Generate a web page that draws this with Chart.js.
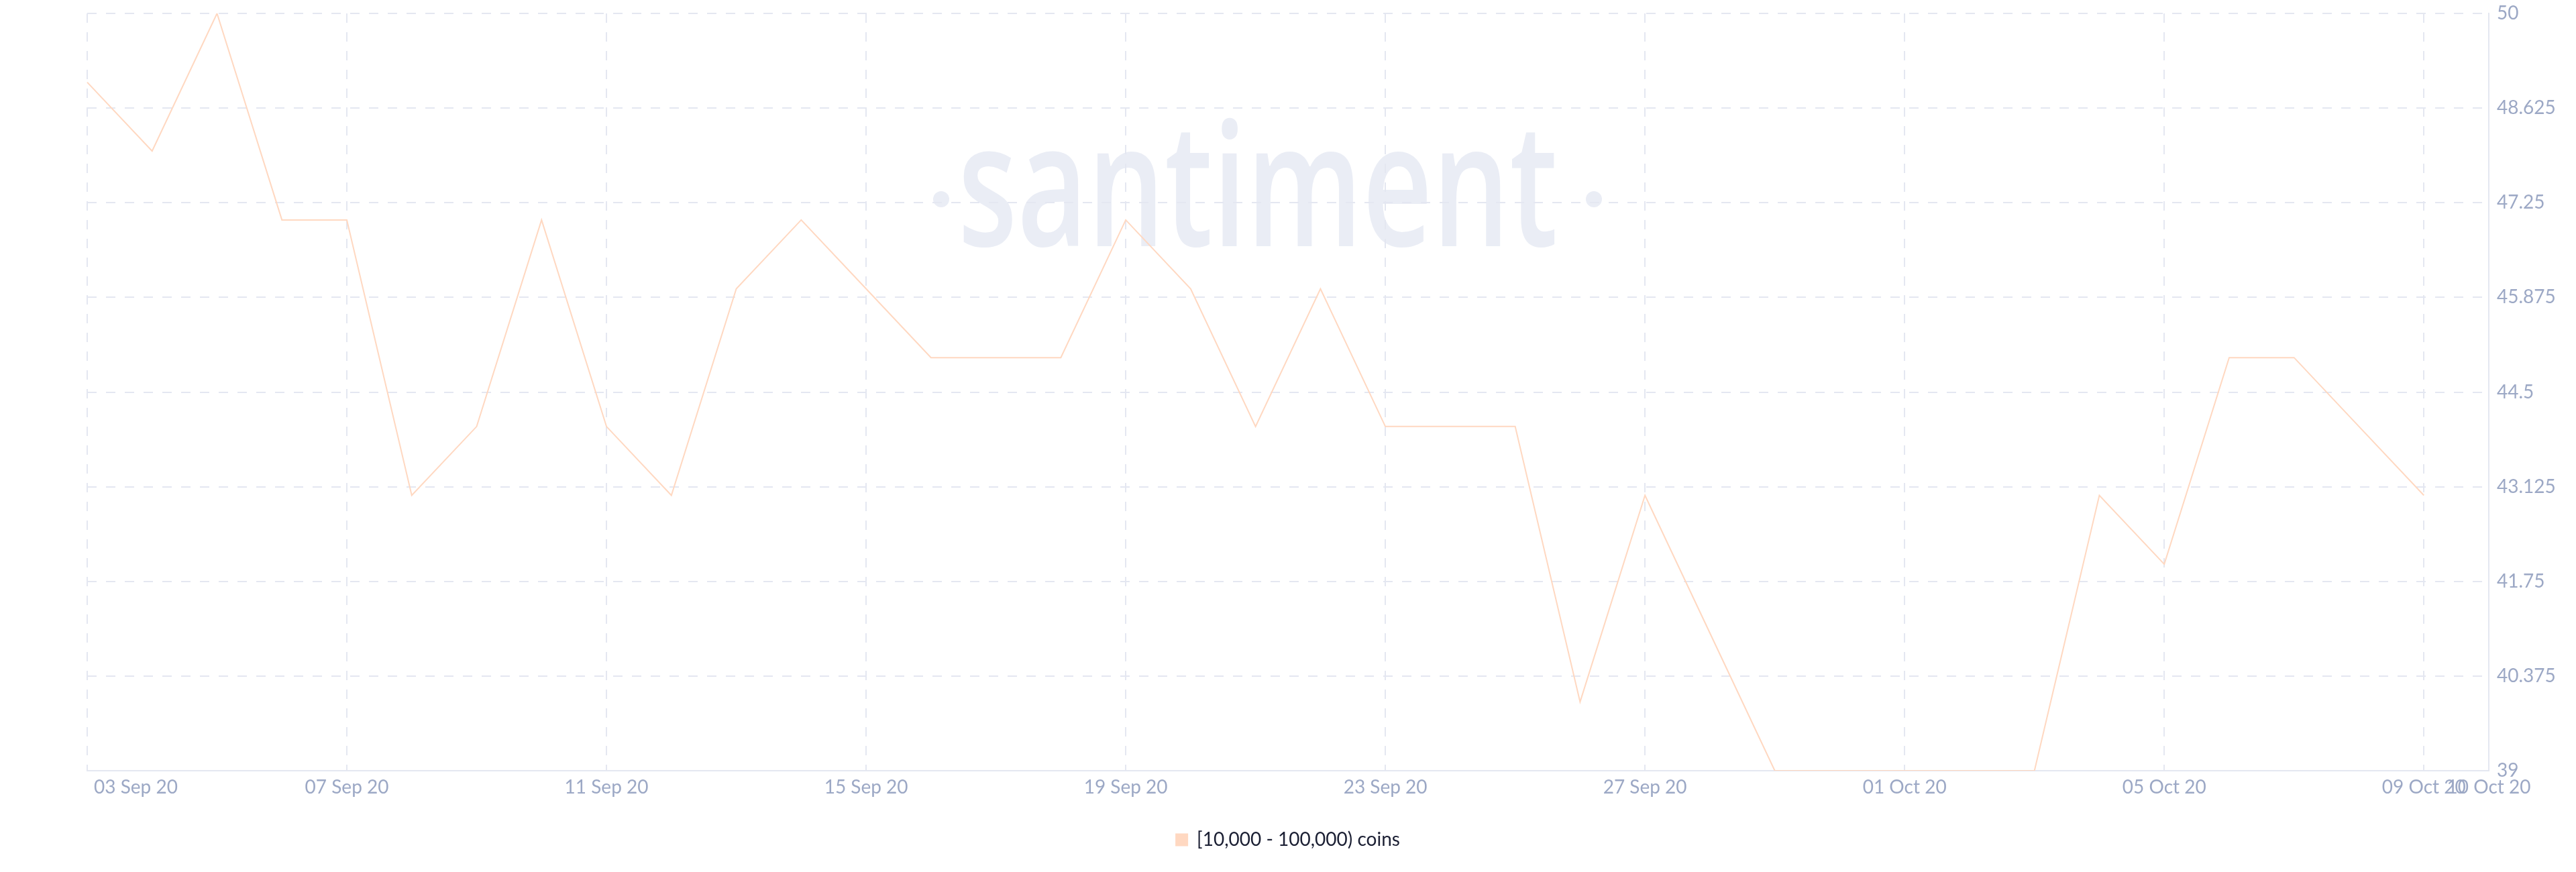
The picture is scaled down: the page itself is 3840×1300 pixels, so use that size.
<!DOCTYPE html>
<html>
<head>
<meta charset="utf-8">
<script src="https://cdn.jsdelivr.net/npm/chart.js@4.4.0/dist/chart.umd.min.js"></script>
<style>
  html, body { margin: 0; padding: 0; background: #fff; }
  #wrap { width: 3840px; height: 1300px; }
</style>
</head>
<body>
<div id="wrap"><canvas id="chart"></canvas></div>
<script>
// DATA
const days = [
  '03 Sep 20', '04 Sep 20', '05 Sep 20', '06 Sep 20', '07 Sep 20', '08 Sep 20', '09 Sep 20',
  '10 Sep 20', '11 Sep 20', '12 Sep 20', '13 Sep 20', '14 Sep 20', '15 Sep 20', '16 Sep 20',
  '17 Sep 20', '18 Sep 20', '19 Sep 20', '20 Sep 20', '21 Sep 20', '22 Sep 20', '23 Sep 20',
  '24 Sep 20', '25 Sep 20', '26 Sep 20', '27 Sep 20', '28 Sep 20', '29 Sep 20', '30 Sep 20',
  '01 Oct 20', '02 Oct 20', '03 Oct 20', '04 Oct 20', '05 Oct 20', '06 Oct 20', '07 Oct 20',
  '08 Oct 20', '09 Oct 20', '10 Oct 20'
];
const holders = [
  49, 48, 50, 47, 47, 43, 44, 47, 44, 43, 46, 47, 46, 45, 45, 45, 47, 46, 44,
  46, 44, 44, 44, 40, 43, 41, 39, 39, 39, 39, 39, 43, 42, 45, 45, 44, 43
];
const yTicks = [39, 40.375, 41.75, 43.125, 44.5, 45.875, 47.25, 48.625, 50];
const seriesName = '[10,000 - 100,000) coins';

// COLOURS
const lineColor = '#ffd8c1';
const gridColor = '#e4e7f1';
const tickColor = '#9ca8c5';
const tickFont = { family: 'Lato', size: 28 };

// watermark behind the grid
const watermark = {
  id: 'watermark',
  beforeDraw(chart) {
    const ctx = chart.ctx;
    ctx.save();
    ctx.fillStyle = '#eaedf5';
    ctx.font = '600 255px "Open Sans"';
    const w = ctx.measureText('santiment').width;
    ctx.translate(1428, 367);
    ctx.scale(894 / w, 1);
    ctx.textBaseline = 'alphabetic';
    ctx.fillText('santiment', 0, 0);
    ctx.restore();
    ctx.save();
    ctx.fillStyle = '#eaedf5';
    [1403, 2376].forEach(x => {
      ctx.beginPath();
      ctx.arc(x, 297, 12, 0, Math.PI * 2);
      ctx.fill();
    });
    ctx.restore();
  }
};

// first date label sits right of its grid line
const firstLabelLeft = {
  id: 'firstLabelLeft',
  beforeDraw(chart) {
    const sx = chart.scales.x;
    const first = sx.getLabelItems().find(it => it.label === days[0]);
    if (first) {
      first.options.textAlign = 'left';
      first.options.translation[0] = sx.getPixelForTick(0) + 10;
    }
  }
};

new Chart(document.getElementById('chart'), {
  type: 'line',
  data: {
    labels: days,
    datasets: [{
      label: seriesName,
      data: holders,
      borderColor: lineColor,
      backgroundColor: lineColor,
      borderWidth: 2,
      pointRadius: 0,
      tension: 0,
      yAxisID: 'y'
    }]
  },
  options: {
    responsive: true,
    maintainAspectRatio: false,
    animation: false,
    layout: { padding: { top: 20, right: 0, bottom: 24, left: 0 } },
    plugins: {
      legend: {
        position: 'bottom',
        labels: {
          boxWidth: 17, boxHeight: 17, padding: 10,
          color: '#1b1f33',
          font: { family: 'Lato', size: 28 }
        }
      },
      tooltip: { enabled: false }
    },
    scales: {
      x: {
        grid: { color: gridColor, lineWidth: 2, drawTicks: false },
        border: { display: true, color: gridColor, width: 2, dash: [14, 14] },
        ticks: {
          autoSkip: false, maxRotation: 0, padding: 8,
          color: tickColor, font: tickFont,
          callback: (v, i) => (i % 4 === 0 || i === days.length - 1) ? days[i] : null
        },
        afterFit: s => { s.height = 79; }
      },
      y: {
        position: 'right',
        min: 39, max: 50,
        grid: { color: gridColor, lineWidth: 2, drawTicks: false },
        border: { display: true, color: gridColor, width: 2, dash: [14, 14] },
        ticks: {
          padding: 12, color: tickColor, font: tickFont,
          callback: v => String(v)
        },
        afterBuildTicks: s => { s.ticks = yTicks.map(v => ({ value: v })); },
        afterFit: s => { s.width = 130; s.paddingTop = 0; s.paddingBottom = 0; }
      },
      yLeft: {
        position: 'left',
        grid: { display: false },
        border: { display: false },
        ticks: { display: false },
        afterFit: s => { s.width = 130; }
      }
    }
  },
  plugins: [watermark, firstLabelLeft]
});
</script>
</body>
</html>
